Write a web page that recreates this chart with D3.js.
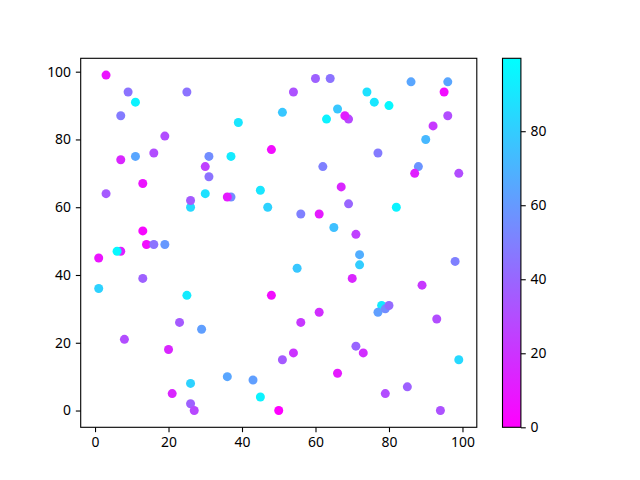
<!DOCTYPE html>
<html><head><meta charset="utf-8">
<script src="https://cdn.jsdelivr.net/npm/d3@7"></script>
<style>body{margin:0;background:#fff}svg{display:block}text{font-family:"Noto Sans",sans-serif}</style>
</head><body><svg id="c" width="640" height="480"></svg>
<script>
// Scatter data: x, y, colour value
const xs = [3,9,11,25,7,39,51,19,48,7,11,16,31,37,30,31,13,60,64,54,86,96,95,74,76,80,66,63,69,68,96,92,90,77,62,88,87,99,3,26,26,30,37,36,45,47,13,14,16,19,7,6,1,13,1,25,48,67,69,56,61,82,65,71,72,72,55,98,70,89,23,29,8,20,51,36,43,26,21,45,26,27,50,78,77,79,80,61,56,93,71,73,54,99,66,85,79,94];
const ys = [99,94,91,94,87,85,88,81,77,74,75,76,75,75,72,69,67,98,98,94,97,97,94,94,91,90,89,86,86,87,87,84,80,76,72,72,70,70,64,60,62,64,63,63,65,60,53,49,49,49,47,47,45,39,36,34,34,66,61,58,58,60,54,52,46,43,42,44,39,37,26,24,21,18,15,10,9,8,5,4,2,0,0,31,29,30,31,29,26,27,19,17,17,15,11,7,5,0];
const cs = [8,45,95,45,48,90,78,30,5,15,65,30,55,92,25,45,8,38,45,32,65,65,5,88,90,97,78,95,28,12,30,22,72,48,50,58,12,30,35,85,35,88,55,10,90,82,3,5,45,60,12,97,8,38,82,92,5,15,40,50,10,95,75,25,68,80,78,50,15,22,35,62,30,15,35,65,62,82,15,95,38,28,0,92,62,55,42,18,22,30,40,18,20,85,10,38,30,32];
const xTicks = [0,20,40,60,80,100];
const yTicks = [0,20,40,60,80,100];
const cTicks = [0,20,40,60,80];
const xDomain = [-3.9, 103.9];
const yDomain = [-4.95, 103.95];
const cDomain = [0, 99.7];

const svg = d3.select("#c");
const L = 80.7, R = 476.8, T = 58.3, B = 427.3;
const x = d3.scaleLinear().domain(xDomain).range([L, R]);
const y = d3.scaleLinear().domain(yDomain).range([B, T]);
const cn = d3.scaleLinear().domain(cDomain).range([0, 1]);
const cool = t => d3.rgb(255 * (1 - t), 255 * t, 255);
const color = v => cool(Math.max(0, Math.min(1, cn(v))));

const pts = xs.map((d, i) => ({x: d, y: ys[i], c: cs[i]}));
svg.append("g").selectAll("circle").data(pts).join("circle")
  .attr("cx", d => x(d.x)).attr("cy", d => y(d.y)).attr("r", 4.5)
  .attr("fill", d => color(d.c));

const tl = 4.86, fs = "13.9px";
const xa = svg.append("g").attr("transform", `translate(0,${B})`)
  .call(d3.axisBottom(x).tickValues(xTicks).tickSize(tl).tickPadding(4.86).tickFormat(d3.format("d")));
const ya = svg.append("g").attr("transform", `translate(${L},0)`)
  .call(d3.axisLeft(y).tickValues(yTicks).tickSize(tl).tickPadding(4.86).tickFormat(d3.format("d")));
[xa, ya].forEach(a => {
  a.select(".domain").remove();
  a.selectAll("line").attr("stroke", "#000").attr("stroke-width", 1.1);
  a.selectAll("text").attr("font-size", fs).attr("fill", "#000").attr("font-family", '"Noto Sans",sans-serif');
});
svg.append("rect").attr("x", L).attr("y", T).attr("width", R - L).attr("height", B - T)
  .attr("fill", "none").attr("stroke", "#000").attr("stroke-width", 1.1);

// colorbar
const CL = 502.5, CW = 18.4;
const cy = d3.scaleLinear().domain(cDomain).range([B, T]);
const grad = svg.append("defs").append("linearGradient").attr("id", "g")
  .attr("x1", 0).attr("y1", 1).attr("x2", 0).attr("y2", 0);
d3.range(0, 1.0001, 0.1).forEach(t => grad.append("stop").attr("offset", t).attr("stop-color", cool(t)));
svg.append("rect").attr("x", CL).attr("y", T).attr("width", CW).attr("height", B - T).attr("fill", "url(#g)");
const ca = svg.append("g").attr("transform", `translate(${CL + CW},0)`)
  .call(d3.axisRight(cy).tickValues(cTicks).tickSize(tl).tickPadding(4.86).tickFormat(d3.format("d")));
ca.select(".domain").remove();
ca.selectAll("line").attr("stroke", "#000").attr("stroke-width", 1.1);
ca.selectAll("text").attr("font-size", fs).attr("fill", "#000").attr("font-family", '"Noto Sans",sans-serif');
svg.append("rect").attr("x", CL).attr("y", T).attr("width", CW).attr("height", B - T)
  .attr("fill", "none").attr("stroke", "#000").attr("stroke-width", 1.1);
</script></body></html>
